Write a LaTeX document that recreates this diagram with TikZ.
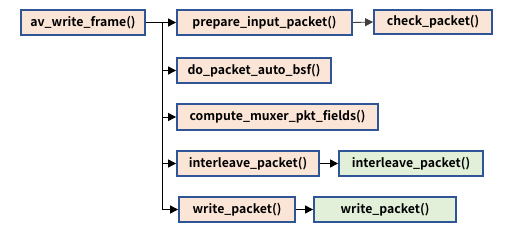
\documentclass[tikz,border=0pt]{standalone}
\usepackage{fontspec}
\newfontfamily\boxfont{Noto Sans CJK KR}[BoldFont={* Bold}]
\usetikzlibrary{arrows.meta}
\definecolor{boxline}{HTML}{2F5597}
\definecolor{peach}{HTML}{FBE5D6}
\definecolor{mint}{HTML}{E2F0D9}
\begin{document}
\begin{tikzpicture}[x=1pt,y=-1pt,
  fn/.style={draw=boxline, line width=1.8pt, fill=peach, inner sep=0pt,
    minimum height=25pt, font=\boxfont\fontsize{12.3}{14}\selectfont\bfseries},
  leaf/.style={fn, fill=mint},
  call/.style={line width=0.9pt, -{Triangle[length=8pt,width=8pt]}}]
\useasboundingbox (0,0) rectangle (512,241);
\node[fn, minimum width=124pt] (a)  at (83,22.5)   {av\_write\_frame()};
\node[fn, minimum width=175pt] (p)  at (264.5,22.5) {prepare\_input\_packet()};
\node[fn, minimum width=118pt, minimum height=24pt] (c) at (433,22) {check\_packet()};
\node[fn, minimum width=154pt] (d)  at (254,70.5)  {do\_packet\_auto\_bsf()};
\node[fn, minimum width=201pt, minimum height=26pt] (m) at (277.5,117) {compute\_muxer\_pkt\_fields()};
\node[fn, minimum width=142pt] (i)  at (248,163.5) {interleave\_packet()};
\node[leaf, minimum width=144pt] (ig) at (411,163.5) {interleave\_packet()};
\node[fn, minimum width=116pt] (w)  at (237,209.5) {write\_packet()};
\node[leaf, minimum width=142pt] (wg) at (385,209.5) {write\_packet()};
\coordinate (t) at (162,0);
% trunk from the caller down to the last callee
\draw[line width=0.9pt] (a.east) -- (a.east -| t) -- (w.west -| t);
\foreach \n in {p,d,m,i,w}
  \draw[call] (\n.west -| t) -- (\n.west);
\draw[call, black!75] (p.east) -- (c.west);
\draw[call] (i.east) -- (ig.west);
\draw[call] (w.east) -- (wg.west);
\end{tikzpicture}
\end{document}
